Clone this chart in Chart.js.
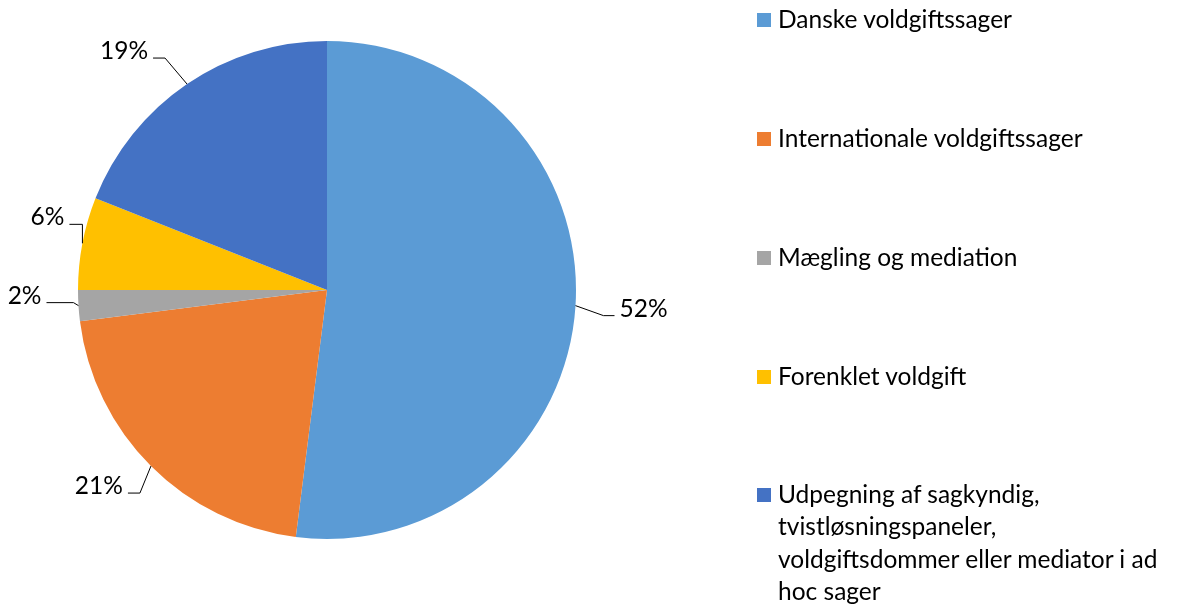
<!DOCTYPE html>
<html>
<head>
<meta charset="utf-8">
<script src="https://cdn.jsdelivr.net/npm/chart.js@4"></script>
<style>
  html, body { margin: 0; padding: 0; background: #fff; }
  #wrap { position: relative; width: 1179px; height: 606px; overflow: hidden; }
  #pie { position: absolute; left: 0; top: 0; }
  #legend { position: absolute; left: 757px; top: 0; width: 422px; font-family: Lato, "Open Sans", sans-serif; font-size: 24.5px; color: #000; }
  .item { position: absolute; left: 0; display: flex; align-items: flex-start; line-height: 32.5px; }
  .box { width: 14px; height: 14px; margin-top: 10px; margin-right: 7px; flex: none; }
  .txt { width: 401px; }
</style>
</head>
<body>
<div id="wrap">
  <canvas id="pie" width="1179" height="606"></canvas>
  <div id="legend"></div>
</div>
<script>
// Data
const categories = [
    'Danske voldgiftssager',
    'Internationale voldgiftssager',
    'Mægling og mediation',
    'Forenklet voldgift',
    'Udpegning af sagkyndig, tvistløsningspaneler, voldgiftsdommer eller mediator i ad hoc sager'
];
const shares = [52, 21, 2, 6, 19];
const sliceColors = ['#5B9BD5', '#ED7D31', '#A5A5A5', '#FFC000', '#4472C4'];

// Leader line layout, relative to the point on the arc at the slice middle
// [elbow dx, elbow dy, end dx, end dy, text side]
const leaderLayout = [
    [28, 10, 39, 10, 'right'],
    [-11, 27, -23, 27, 'left'],
    [-5, -3, -32, -3, 'left'],
    [0, -19, -13, -19, 'left'],
    [-22, -26, -34, -26, 'left']
];

// Legend rows (centre y of first line)
const legendRows = [20, 139, 258, 377, 495];

// Draw percent labels with leader lines
const leaderLabels = {
    id: 'leaderLabels',
    afterDatasetsDraw(chart) {
        const ctx = chart.ctx;
        const meta = chart.getDatasetMeta(0);
        ctx.save();
        ctx.strokeStyle = '#000';
        ctx.lineWidth = 1;
        ctx.fillStyle = '#000';
        ctx.font = '24.5px Lato, "Open Sans", sans-serif';
        ctx.textBaseline = 'middle';
        meta.data.forEach((arc, i) => {
            const mid = (arc.startAngle + arc.endAngle) / 2;
            const ax = arc.x + Math.cos(mid) * arc.outerRadius;
            const ay = arc.y + Math.sin(mid) * arc.outerRadius;
            const [ex, ey, hx, hy, side] = leaderLayout[i];
            ctx.beginPath();
            ctx.moveTo(ax, ay);
            ctx.lineTo(ax + ex, ay + ey);
            ctx.lineTo(ax + hx, ay + hy);
            ctx.stroke();
            const txt = shares[i] + '%';
            if (side === 'right') {
                ctx.textAlign = 'left';
                ctx.fillText(txt, ax + hx + 5, ay + hy - 7);
            } else {
                ctx.textAlign = 'right';
                ctx.fillText(txt, ax + hx - 5, ay + hy - 7);
            }
        });
        ctx.restore();
    }
};

const ctx = document.getElementById('pie').getContext('2d');
const chart = new Chart(ctx, {
    type: 'pie',
    data: {
        labels: categories,
        datasets: [{
            data: shares,
            backgroundColor: sliceColors,
            borderWidth: 0
        }]
    },
    options: {
        responsive: false,
        animation: false,
        layout: { padding: { left: 78, right: 603, top: 41, bottom: 67 } },
        plugins: {
            legend: { display: false },
            tooltip: { enabled: false }
        }
    },
    plugins: [leaderLabels]
});

// HTML legend
const legend = document.getElementById('legend');
categories.forEach((name, i) => {
    const row = document.createElement('div');
    row.className = 'item';
    row.style.top = (legendRows[i] - 17.5) + 'px';
    const box = document.createElement('div');
    box.className = 'box';
    box.style.background = sliceColors[i];
    const txt = document.createElement('div');
    txt.className = 'txt';
    txt.textContent = name;
    row.appendChild(box);
    row.appendChild(txt);
    legend.appendChild(row);
});
</script>
</body>
</html>
